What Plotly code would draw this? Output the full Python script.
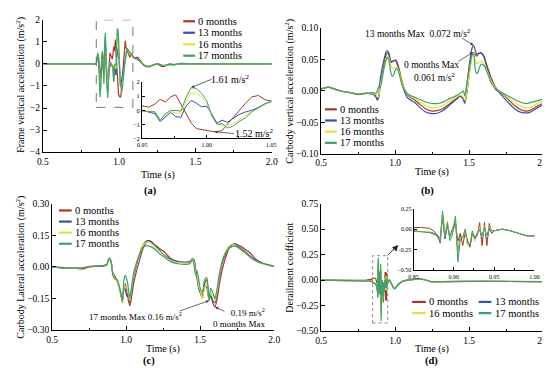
import plotly.graph_objects as go

FONT = "Liberation Serif"
W, H = 550, 368


def PX(x):
    return x / W


def PY(y):
    return 1 - y / H


series_names = ["0 months", "13 months", "16 months", "17 months"]
colors = ["#A8362A", "#3553A6", "#E2E23C", "#3F9F6F"]

# ---------------- (a) Frame vertical acceleration ----------------
time_a = [0.50, 0.60, 0.70, 0.80, 0.84, 0.85, 0.855, 0.86, 0.865, 0.87, 0.875, 0.88, 0.885, 0.89, 0.895,
          0.90, 0.905, 0.91, 0.915, 0.92, 0.925, 0.93, 0.935, 0.94, 0.945,
          0.950, 0.955, 0.960, 0.964, 0.968, 0.972, 0.976, 0.980, 0.984, 0.988, 0.992, 0.996,
          1.000, 1.004, 1.008, 1.012, 1.016, 1.020, 1.025, 1.030, 1.035, 1.040, 1.045, 1.050,
          1.055, 1.06, 1.07, 1.08, 1.09, 1.10, 1.12, 1.14, 1.16, 1.18, 1.20, 1.22, 1.25, 1.28,
          1.30, 1.33, 1.36, 1.40, 1.45, 1.50, 1.60, 1.70, 1.80, 1.90, 2.00]
frame_0 = [0, 0, 0, 0, 0, 0, 0.2, 0.45, 0.3, -0.2, -0.6, -0.3, 0.2, 0.5, 0.3,
           -0.3, 0.6, 1.0, 0.2, -0.9, -1.2, -0.5, 0.3, 0.5, 0.4,
           0.34, 0.22, 0.45, 0.78, 0.58, 0.95, 1.1, 0.45, -0.15, -0.9, -1.3, -1.38,
           -1.45, -1.5, -1.52, -1.42, -1.0, -0.55, -0.05, 0.5, 0.95, 1.05, 0.75, 0.65,
           0.55, 0.45, 0.3, 0.45, 0.35, 0.25, 0.3, 0.15, -0.05, -0.12, -0.1, -0.05, 0.0, -0.12,
           -0.1, 0.0, -0.04, 0.02, 0.0, 0.0, 0.0, 0.0, 0.0, 0.0, 0.0]
frame_13 = [0, 0, 0, 0, 0, 0, 0.2, 0.4, 0.3, -0.3, -0.9, -0.6, 0.1, 0.4, 0.0,
            -0.6, 0.5, 0.9, 0.0, -1.1, -1.3, -0.6, -0.1, 0.1, 0.0,
            0.0, -0.1, -0.25, -0.8, -0.5, -0.15, -0.45, -0.5, 0.3, 0.7, 0.5, 0.25,
            0.3, -0.35, -0.9, -0.7, -0.85, -0.6, -0.3, -0.12, 0.0, 0.2, 0.45, 0.6,
            0.62, 0.6, 0.5, 0.45, 0.35, 0.28, 0.25, 0.1, -0.05, -0.12, -0.12, -0.05, 0.02, -0.06,
            -0.08, -0.02, -0.03, 0.01, 0.0, 0.0, 0.0, 0.0, 0.0, 0.0, 0.0]
frame_16 = [0, 0, 0, 0, 0, 0, 0.25, 0.45, 0.2, -0.5, -1.2, -0.8, 0.1, 0.5, 0.0,
            -0.7, 0.8, 1.2, 0.0, -1.3, -1.4, -0.6, 0.0, 0.1, -0.1,
            -0.03, -0.05, -0.1, -0.65, -0.3, -0.05, -0.2, -0.2, 0.6, 1.25, 1.2, 0.95,
            0.5, -0.4, -1.0, -1.05, -1.1, -0.95, -0.65, -0.35, -0.1, 0.15, 0.4, 0.65,
            0.68, 0.6, 0.45, 0.4, 0.3, 0.25, 0.22, 0.1, -0.03, -0.1, -0.12, -0.06, 0.02, -0.05,
            -0.07, -0.02, -0.03, 0.01, 0.0, 0.0, 0.0, 0.0, 0.0, 0.0, 0.0]
frame_17 = [0, 0, 0, 0, 0, 0, 0.3, 0.5, 0.1, -0.8, -1.5, -1.0, 0.2, 0.6, -0.2,
            -0.9, 1.0, 1.4, -0.3, -1.5, -1.55, -0.8, 0.0, 0.1, -0.1,
            -0.05, -0.08, -0.12, -0.7, -0.25, 0.0, -0.05, -0.05, 0.9, 1.61, 1.55, 1.2,
            0.7, -0.4, -1.0, -0.95, -1.25, -1.15, -0.8, -0.55, -0.1, 0.2, 0.45, 0.65,
            0.68, 0.62, 0.5, 0.42, 0.32, 0.25, 0.2, 0.08, -0.04, -0.1, -0.13, -0.07, 0.01, -0.05,
            -0.06, -0.02, -0.03, 0.01, 0.0, 0.0, 0.0, 0.0, 0.0, 0.0, 0.0]

# ---------------- (b) Carbody vertical acceleration ----------------
time_b = [0.50, 0.55, 0.60, 0.65, 0.70, 0.75, 0.80, 0.85, 0.87, 0.88, 0.89, 0.90, 0.92, 0.94, 0.95, 0.96,
          0.97, 0.98, 0.99, 1.00, 1.01, 1.02, 1.03, 1.05, 1.08, 1.10, 1.13, 1.17, 1.21, 1.25, 1.29,
          1.33, 1.37, 1.41, 1.44, 1.46, 1.47, 1.48, 1.50, 1.52, 1.53, 1.54, 1.55, 1.56, 1.58, 1.60,
          1.62, 1.65, 1.68, 1.70, 1.73, 1.77, 1.81, 1.85, 1.88, 1.91, 1.94, 1.97, 2.00]
vert_0 = [0.003, 0.006, 0.002, -0.001, -0.003, -0.006, -0.004, -0.005, -0.008, -0.013, -0.01, 0.01, 0.035,
          0.058, 0.06, 0.055, 0.045, 0.046, 0.047, 0.049, 0.047, 0.04, 0.032, 0.012, -0.005, -0.01,
          -0.014, -0.022, -0.029, -0.032, -0.031, -0.027, -0.02, -0.013, -0.008, -0.012, -0.017, -0.01,
          0.025, 0.058, 0.061, 0.058, 0.055, 0.058, 0.06, 0.055, 0.04, 0.02, 0.005, 0.0, -0.006, -0.015,
          -0.024, -0.03, -0.032, -0.031, -0.027, -0.023, -0.02]
vert_13 = [0.003, 0.006, 0.002, -0.001, -0.003, -0.005, -0.004, -0.005, -0.01, -0.015, -0.005, 0.02, 0.045,
           0.062, 0.063, 0.058, 0.046, 0.047, 0.048, 0.048, 0.045, 0.038, 0.028, 0.008, -0.01, -0.014,
           -0.018, -0.027, -0.034, -0.036, -0.035, -0.03, -0.022, -0.014, -0.009, -0.014, -0.02, -0.005,
           0.04, 0.068, 0.072, 0.065, 0.058, 0.059, 0.06, 0.053, 0.037, 0.015, 0.002, -0.002, -0.01, -0.02,
           -0.029, -0.034, -0.035, -0.034, -0.03, -0.026, -0.022]
vert_16 = [0.003, 0.006, 0.002, -0.001, -0.003, -0.005, -0.004, -0.004, -0.006, -0.01, -0.008, 0.008, 0.03,
           0.052, 0.055, 0.05, 0.04, 0.036, 0.035, 0.037, 0.038, 0.035, 0.028, 0.01, -0.004, -0.008,
           -0.012, -0.018, -0.024, -0.027, -0.026, -0.022, -0.016, -0.01, -0.007, -0.01, -0.015, -0.008,
           0.025, 0.055, 0.06, 0.05, 0.043, 0.044, 0.047, 0.043, 0.032, 0.015, 0.004, 0.0, -0.005, -0.012,
           -0.019, -0.024, -0.027, -0.026, -0.023, -0.019, -0.016]
vert_17 = [0.003, 0.006, 0.002, -0.001, -0.003, -0.005, -0.004, -0.003, -0.004, 0.0, 0.008, 0.005, 0.03,
           0.05, 0.053, 0.045, 0.03, 0.023, 0.025, 0.032, 0.035, 0.032, 0.024, 0.007, -0.004, -0.007,
           -0.01, -0.014, -0.018, -0.02, -0.02, -0.017, -0.012, -0.008, -0.004, 0.0, -0.008, 0.005,
           0.035, 0.057, 0.058, 0.035, 0.027, 0.03, 0.042, 0.04, 0.03, 0.012, 0.003, 0.0, -0.004, -0.009,
           -0.014, -0.018, -0.02, -0.019, -0.017, -0.015, -0.013]

# ---------------- (c) Carbody lateral acceleration ----------------
time_c = [0.50, 0.55, 0.60, 0.65, 0.70, 0.75, 0.80, 0.85, 0.87, 0.88, 0.89, 0.90, 0.91, 0.92, 0.94, 0.96,
          0.975, 0.985, 0.995, 1.005, 1.015, 1.025, 1.035, 1.05, 1.07, 1.09, 1.11, 1.13, 1.15, 1.17,
          1.20, 1.23, 1.26, 1.30, 1.35, 1.40, 1.43, 1.45, 1.46, 1.47, 1.48, 1.49, 1.50, 1.515, 1.53,
          1.545, 1.56, 1.57, 1.585, 1.60, 1.615, 1.63, 1.65, 1.67, 1.69, 1.71, 1.73, 1.75, 1.78, 1.81,
          1.84, 1.87, 1.90, 1.93, 1.96, 2.00]
lat_0 = [0.0, -0.003, -0.005, -0.005, -0.01, 0.0, 0.003, 0.005, 0.01, 0.035, 0.04, 0.02, -0.03, -0.04,
         -0.07, -0.12, -0.17, -0.1, -0.08, -0.12, -0.16, -0.185, -0.15, -0.08, -0.02, 0.03, 0.08, 0.11,
         0.125, 0.12, 0.1, 0.085, 0.07, 0.04, 0.025, 0.022, 0.025, 0.04, 0.03, -0.01, -0.06, -0.1, -0.12,
         -0.14, -0.08, -0.06, -0.15, -0.13, -0.17, -0.19, -0.15, -0.08, -0.01, 0.04, 0.08, 0.1, 0.11,
         0.105, 0.095, 0.08, 0.065, 0.04, 0.025, 0.015, 0.008, 0.003]
lat_13 = [0.0, -0.003, -0.005, -0.004, -0.006, 0.002, 0.004, 0.006, 0.012, 0.035, 0.042, 0.02, -0.03,
          -0.045, -0.07, -0.11, -0.16, -0.09, -0.11, -0.14, -0.13, -0.17, -0.12, -0.05, 0.01, 0.06, 0.1,
          0.12, 0.125, 0.118, 0.1, 0.075, 0.055, 0.035, 0.025, 0.022, 0.025, 0.042, 0.03, -0.02, -0.05,
          -0.1, -0.12, -0.15, -0.09, -0.1, -0.16, -0.14, -0.16, -0.17, -0.12, -0.05, 0.02, 0.06, 0.09,
          0.105, 0.108, 0.1, 0.085, 0.068, 0.05, 0.035, 0.022, 0.015, 0.01, 0.004]
lat_16 = [0.0, -0.002, -0.004, -0.004, -0.005, 0.003, 0.006, 0.008, 0.012, 0.032, 0.04, 0.018, -0.035,
          -0.05, -0.075, -0.115, -0.165, -0.08, -0.1, -0.1, -0.12, -0.16, -0.11, -0.04, 0.02, 0.065, 0.1,
          0.115, 0.118, 0.11, 0.09, 0.07, 0.05, 0.03, 0.02, 0.018, 0.02, 0.04, 0.02, -0.03, -0.04, -0.09,
          -0.11, -0.15, -0.1, -0.08, -0.16, -0.12, -0.14, -0.16, -0.11, -0.04, 0.03, 0.07, 0.095, 0.105,
          0.105, 0.095, 0.078, 0.06, 0.045, 0.03, 0.02, 0.013, 0.008, 0.004]
lat_17 = [0.0, -0.002, -0.004, -0.004, -0.005, 0.002, 0.005, 0.008, 0.012, 0.03, 0.038, 0.015, -0.04,
          -0.055, -0.06, -0.11, -0.16, -0.06, -0.04, -0.06, -0.1, -0.15, -0.1, -0.03, 0.02, 0.06, 0.09,
          0.1, 0.1, 0.095, 0.08, 0.06, 0.045, 0.025, 0.015, 0.012, 0.015, 0.035, 0.0, -0.04, -0.02, -0.06,
          -0.1, -0.12, -0.06, -0.05, -0.16, -0.1, -0.12, -0.15, -0.1, -0.03, 0.03, 0.065, 0.085, 0.095,
          0.1, 0.095, 0.08, 0.065, 0.045, 0.03, 0.02, 0.015, 0.01, 0.005]

# ---------------- (d) Derailment coefficient ----------------
time_d = [0.50, 0.60, 0.70, 0.80, 0.84,
          0.850, 0.860, 0.870, 0.876, 0.880, 0.883, 0.886, 0.889, 0.892, 0.895, 0.898, 0.902, 0.905,
          0.908, 0.911, 0.914, 0.917, 0.920, 0.923, 0.926, 0.929, 0.932, 0.935, 0.938, 0.941, 0.944,
          0.947, 0.950,
          0.96, 0.97, 0.98, 0.99, 1.00, 1.02, 1.05, 1.08, 1.12, 1.16, 1.20, 1.25, 1.30, 1.40, 1.50,
          1.60, 1.70, 1.80, 1.90, 2.00]
der_0 = [0.0, -0.002, -0.003, -0.002, 0.01,
         0.02, 0.02, 0.01, -0.03, -0.08, -0.17, 0.15, -0.12, 0.05, -0.08, -0.05, 0.08, -0.15,
         -0.05, -0.20, -0.05, -0.15, -0.22, -0.05, -0.12, -0.08, 0.08, -0.2, 0.08, -0.2, 0.07,
         -0.05, -0.02,
         0.0, -0.02, -0.05, -0.08, -0.08, -0.04, -0.01, 0.0, 0.005, 0.012, 0.005, -0.02, -0.015,
         -0.012, -0.012, -0.012, -0.013, -0.013, -0.014, -0.015]
der_13 = [0.0, -0.002, -0.003, -0.002, -0.01,
          -0.03, -0.03, -0.04, -0.07, -0.08, -0.12, 0.18, -0.1, 0.06, -0.1, 0.0, 0.1, -0.3,
          -0.08, -0.12, -0.02, -0.18, -0.2, -0.04, -0.1, -0.06, 0.0, -0.12, 0.02, -0.12, 0.0,
          -0.04, -0.02,
          0.0, -0.02, -0.05, -0.08, -0.085, -0.045, -0.012, 0.0, 0.006, 0.012, 0.004, -0.02, -0.016,
          -0.012, -0.012, -0.012, -0.013, -0.013, -0.014, -0.015]
der_16 = [0.0, -0.002, -0.003, -0.002, -0.01,
          -0.02, -0.03, -0.03, -0.05, -0.1, -0.14, 0.2, -0.08, 0.1, -0.12, -0.05, 0.15, -0.35,
          -0.1, -0.12, 0.0, -0.2, -0.18, -0.03, -0.15, -0.05, 0.02, -0.1, 0.04, -0.1, 0.03,
          -0.03, -0.02,
          0.0, -0.02, -0.05, -0.08, -0.08, -0.04, -0.01, 0.0, 0.006, 0.011, 0.004, -0.019, -0.015,
          -0.012, -0.012, -0.012, -0.012, -0.013, -0.013, -0.014]
der_17 = [0.0, -0.002, -0.003, -0.002, -0.01,
          -0.02, -0.03, -0.04, -0.05, -0.1, -0.15, 0.22, -0.1, 0.08, -0.14, -0.08, 0.16, -0.40,
          -0.12, -0.1, 0.0, -0.15, -0.2, -0.02, -0.12, -0.04, 0.0, -0.08, 0.02, -0.08, 0.02,
          -0.02, -0.02,
          0.0, -0.02, -0.05, -0.08, -0.08, -0.04, -0.01, 0.0, 0.006, 0.011, 0.004, -0.018, -0.015,
          -0.012, -0.012, -0.012, -0.012, -0.013, -0.013, -0.014]

panel_a = [frame_0, frame_13, frame_16, frame_17]
panel_b = [vert_0, vert_13, vert_16, vert_17]
panel_c = [lat_0, lat_13, lat_16, lat_17]
panel_d = [der_0, der_13, der_16, der_17]

fig = go.Figure()


def add_panel(times, data, xa, ya, shape="linear", width=1.2):
    for name, col, vals in zip(series_names, colors, data):
        kw = dict(shape=shape)
        if shape == "spline":
            kw["smoothing"] = 0.6
        fig.add_trace(go.Scatter(x=times, y=vals, name=name, mode="lines", xaxis=xa, yaxis=ya,
                                 line=dict(color=col, width=width, **kw), showlegend=False,
                                 hoverinfo="skip"))


add_panel(time_a, panel_a, "x", "y")
add_panel(time_b, panel_b, "x2", "y2", shape="spline")
add_panel(time_c, panel_c, "x3", "y3", shape="spline")
add_panel(time_d, panel_d, "x4", "y4")
add_panel(time_a, panel_a, "x5", "y5", width=1.0)
add_panel(time_d, panel_d, "x6", "y6", width=1.0)


def axis(domain, rng, dtick, fmt, anchor, size=9.5, minor=None, tick0=0):
    d = dict(domain=domain, range=rng, dtick=dtick, tick0=tick0, tickformat=fmt, anchor=anchor,
             showline=True, linecolor="black", linewidth=1, ticks="inside", ticklen=4, tickwidth=1,
             tickcolor="black", showgrid=False, zeroline=False,
             tickfont=dict(family=FONT, size=size, color="black"))
    if minor:
        d["minor"] = dict(ticks="inside", ticklen=2, tickwidth=1, tickcolor="black", dtick=minor,
                          tick0=tick0, showgrid=False)
    return d


layout_axes = dict(
    xaxis=axis([PX(29.5), PX(263.5)], [0.5, 2.0], 0.5, ".1f", "y", minor=0.25),
    yaxis=axis([PY(143), PY(7)], [-4, 2], 1, "d", "x"),
    xaxis2=axis([PX(314), PX(541)], [0.5, 2.0], 0.5, ".1f", "y2", minor=0.25),
    yaxis2=axis([PY(145), PY(15)], [-0.10, 0.10], 0.05, ".2f", "x2"),
    xaxis3=axis([PX(39), PX(266)], [0.5, 2.0], 0.5, ".1f", "y3", minor=0.25),
    yaxis3=axis([PY(326), PY(196)], [-0.30, 0.30], 0.15, ".2f", "x3"),
    xaxis4=axis([PX(314), PX(541)], [0.5, 2.0], 0.5, ".1f", "y4", minor=0.25),
    yaxis4=axis([PY(327), PY(196)], [-0.50, 0.75], 0.25, ".2f", "x4"),
    xaxis5=axis([PX(131), PX(263)], [0.95, 1.05], 0.05, ".2f", "y5", size=6, minor=0.025),
    yaxis5=axis([PY(129), PY(71)], [-2, 2], 1, "d", "x5", size=6.5),
    xaxis6=axis([PX(408.5), PX(532)], [0.85, 1.00], 0.05, ".2f", "y6", size=6, minor=0.025),
    yaxis6=axis([PY(264.5), PY(201)], [-0.50, 0.25], 0.25, ".2f", "x6", size=6),
)
for k in ("xaxis5", "yaxis5", "xaxis6", "yaxis6"):
    layout_axes[k]["ticklen"] = 3

shapes = []
annotations = []


def txt(x, y, text, size=9.5, xanchor="center", angle=0, bold=False, align="center"):
    annotations.append(dict(x=PX(x), y=PY(y), xref="paper", yref="paper",
                            text=("<b>%s</b>" % text) if bold else text,
                            showarrow=False, xanchor=xanchor, yanchor="middle", textangle=angle,
                            align=align, font=dict(family=FONT, size=size, color="black")))


def arrow(xa, ya, x, y, ax, ay):
    annotations.append(dict(x=x, y=y, xref=xa, yref=ya, ax=ax, ay=ay, axref="pixel", ayref="pixel",
                            text="", showarrow=True, arrowhead=2, arrowsize=0.8, arrowwidth=0.8,
                            arrowcolor="#444"))


def legend_entry(x0, x1, y, color, text):
    shapes.append(dict(type="line", xref="paper", yref="paper", x0=PX(x0), x1=PX(x1), y0=PY(y), y1=PY(y),
                       line=dict(color=color, width=2.2)))
    txt(x1 + 1.5, y, text, size=10.5, xanchor="left")


# legends
for i, (n, c) in enumerate(zip(series_names, colors)):
    legend_entry(173, 185, 8.5 + 11.8 * i, c, n)
    legend_entry(318, 330, 99 + 11.5 * i, c, n)
    legend_entry(46, 59, 203 + 11.4 * i, c, n)
legend_entry(407, 421, 297, colors[0], series_names[0])
legend_entry(475, 488, 297, colors[1], series_names[1])
legend_entry(407, 421, 308.5, colors[2], series_names[2])
legend_entry(475, 488, 308.5, colors[3], series_names[3])

# axis titles
txt(7, 74, "Frame vertical acceleration (m/s<sup>2</sup>)", size=10, angle=-90)
txt(282, 80, "Carbody vertical acceleration (m/s<sup>2</sup>)", size=10, angle=-90)
txt(7, 261, "Carbody Lateral acceleration (m/s<sup>2</sup>)", size=10, angle=-90)
txt(282, 262, "Derailment coefficient", size=10, angle=-90)
txt(147, 167, "Time (s)", size=10)
txt(427, 163, "Time (s)", size=10)
txt(152, 345, "Time (s)", size=10)
txt(427, 345, "Time (s)", size=10)
txt(140, 183, "(a)", size=10.5, bold=True)
txt(423, 183, "(b)", size=10.5, bold=True)
txt(138, 358, "(c)", size=10.5, bold=True)
txt(427, 358, "(d)", size=10.5, bold=True)

# annotations (a)
txt(221, 68, "1.61 m/s<sup>2</sup>", size=10)
arrow("x5", "y5", 0.988, 1.61, 22, -9)
txt(245, 123, "1.52 m/s<sup>2</sup>", size=10)
arrow("x5", "y5", 1.006, -1.52, 21, 2)
# annotations (b)
txt(413, 21, "13 months Max  0.072 m/s<sup>2</sup>")
arrow("x2", "y2", 1.53, 0.072, -13, -8)
txt(427, 53, "0 months Max")
txt(430, 66, "0.061 m/s<sup>2</sup>")
arrow("x2", "y2", 1.525, 0.061, -16, 10)
# annotations (c)
txt(124, 311, "17 months Max 0.16 m/s<sup>2</sup>", size=9)
arrow("x3", "y3", 1.56, -0.16, -31, 11)
txt(231, 313, "0.19 m/s<sup>2</sup><br>0 months Max", size=9, align="right")
arrow("x3", "y3", 1.60, -0.19, 11, 5)

# dashed zoom boxes
shapes.append(dict(type="rect", xref="x", yref="y", x0=0.85, x1=1.09, y0=-1.97, y1=2.0,
                   line=dict(color="#777", width=1, dash="dash")))
shapes.append(dict(type="rect", xref="x4", yref="y4", x0=0.848, x1=0.95, y0=-0.42, y1=0.24,
                   line=dict(color="#888", width=1, dash="dot")))
shapes.append(dict(type="line", xref="paper", yref="paper", x0=PX(382), y0=PY(249), x1=PX(389), y1=PY(242),
                   line=dict(color="#333", width=1, dash="dash")))
annotations.append(dict(x=PX(393), y=PY(238.5), xref="paper", yref="paper", ax=-5, ay=5, text="",
                        showarrow=True, arrowhead=2, arrowsize=1, arrowwidth=1.2, arrowcolor="#222"))

fig.update_layout(
    width=W, height=H, margin=dict(l=0, r=0, t=0, b=0),
    paper_bgcolor="white", plot_bgcolor="rgba(0,0,0,0)",
    showlegend=False, shapes=shapes, annotations=annotations,
    font=dict(family=FONT, size=9, color="black"),
    **layout_axes,
)

fig.write_html("out.html")
